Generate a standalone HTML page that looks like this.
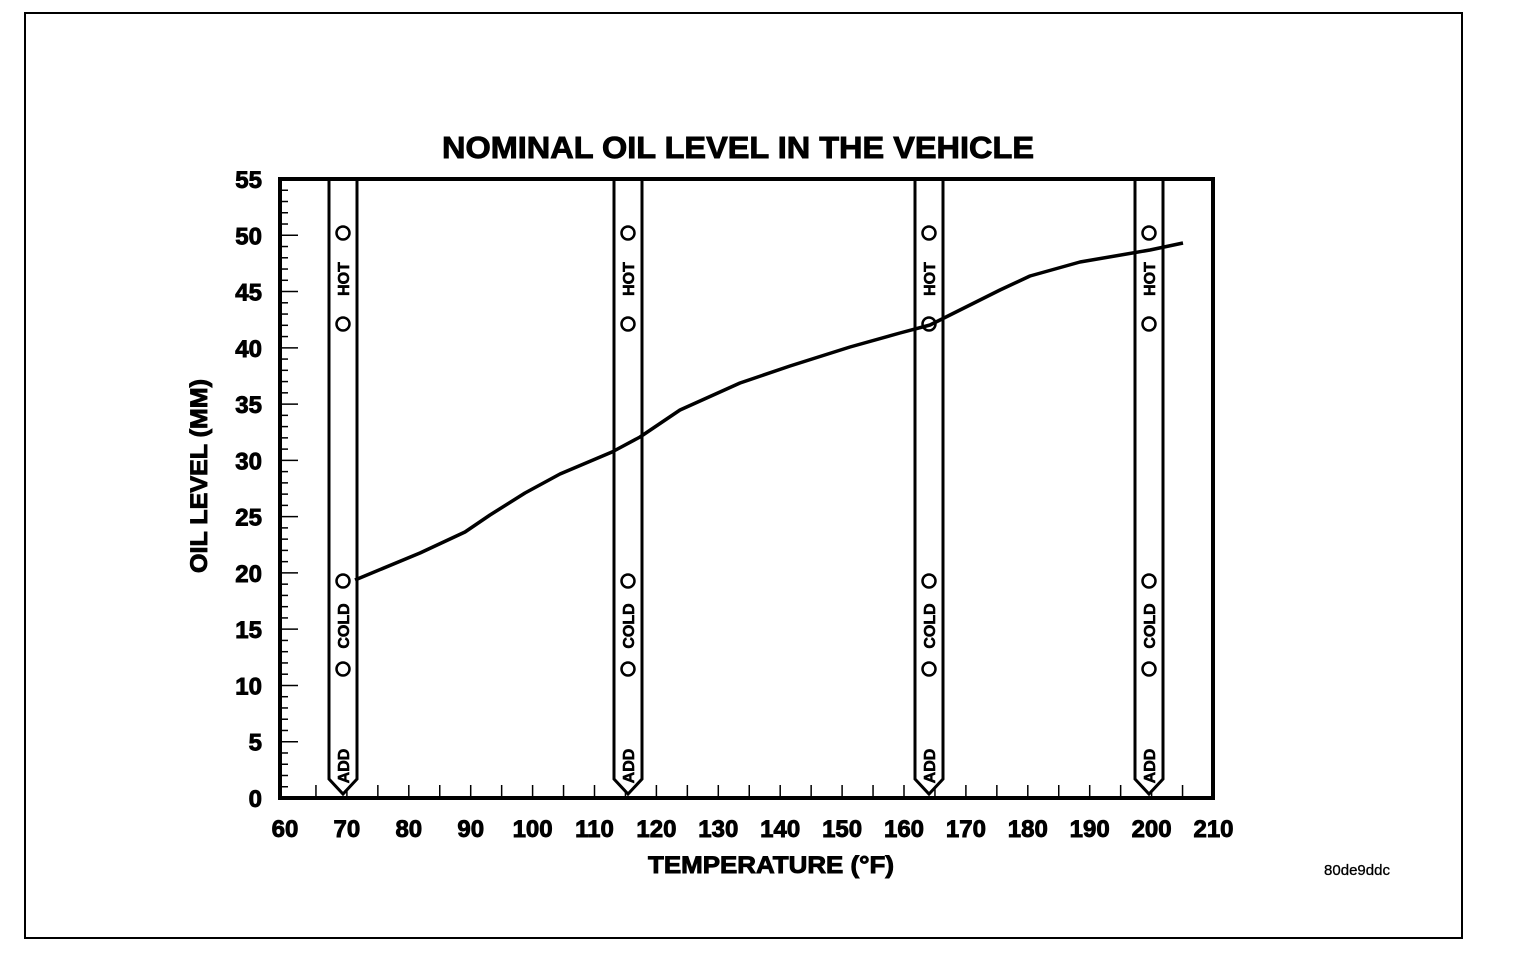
<!DOCTYPE html>
<html><head><meta charset="utf-8"><style>
html,body{margin:0;padding:0;background:#fff;}
svg{display:block;}
text{font-family:"Liberation Sans",Arial,sans-serif;font-weight:bold;fill:#000;stroke:#000;stroke-width:0.9;}
</style></head><body>
<svg id="s" width="1536" height="958" viewBox="0 0 1536 958" xmlns="http://www.w3.org/2000/svg">
<rect x="25" y="13" width="1437" height="925" fill="none" stroke="#000" stroke-width="2"/>
<text x="738" y="158" font-size="31" text-anchor="middle" textLength="592" lengthAdjust="spacingAndGlyphs">NOMINAL OIL LEVEL IN THE VEHICLE</text>
<text x="771" y="873" font-size="24" text-anchor="middle" textLength="246" lengthAdjust="spacingAndGlyphs">TEMPERATURE (°F)</text>
<text transform="translate(207,476) rotate(-90)" font-size="24" text-anchor="middle" textLength="194" lengthAdjust="spacingAndGlyphs">OIL LEVEL (MM)</text>
<text x="1357" y="875" font-size="15" text-anchor="middle" style="font-weight:normal;stroke-width:0.3">80de9ddc</text>
<g id="g"></g>
<polyline fill="none" stroke="#000" stroke-width="3.5" stroke-linejoin="round" points="355,580 420,553 465,532 490,515 525,493 560,474 612,452 640,437 680,410 740,383 790,366 850,347 900,333 930,325 960,310 1000,290 1030,276 1080,262 1150,250 1183,243"/>
<rect x="280" y="179" width="933" height="619" fill="none" stroke="#000" stroke-width="4"/>
</svg>
<script>
var g=document.getElementById('g'),h='';
var X0=280,Y0=798,Yt=179,sy=(Y0-Yt)/55;
for(var v=1;v<55;v++){var y=Y0-v*sy;var len=(v%5==0)?18:8;h+='<line x1="280" y1="'+y+'" x2="'+(280+len)+'" y2="'+y+'" stroke="#000" stroke-width="1.5"/>';}
for(var v=0;v<=55;v+=5){var y=Y0-v*sy;h+='<text x="262" y="'+(y+9)+'" font-size="24" text-anchor="end">'+v+'</text>';}
var sx=61.9;function xp(t){return 285+(t-60)/10*sx;}
for(var t=65;t<=205;t+=5){var x=xp(t);h+='<line x1="'+x+'" y1="798" x2="'+x+'" y2="785" stroke="#000" stroke-width="1.5"/>';}
for(var t=60;t<=210;t+=10){h+='<text x="'+xp(t)+'" y="837" font-size="24" text-anchor="middle">'+t+'</text>';}
[343,628,929,1149].forEach(function(c){
 var l=c-14,r=c+14;
 h+='<path d="M'+l+' 179 L'+l+' 779 L'+c+' 794 L'+r+' 779 L'+r+' 179" fill="#fff" stroke="#000" stroke-width="3"/>';
 [233,324,581,669].forEach(function(y){h+='<circle cx="'+c+'" cy="'+y+'" r="6.5" fill="none" stroke="#000" stroke-width="2.5"/>';});
 h+='<text transform="translate('+(c+6)+',279) rotate(-90)" font-size="16" text-anchor="middle" style="stroke-width:0.6">HOT</text>';
 h+='<text transform="translate('+(c+6)+',626) rotate(-90)" font-size="16" text-anchor="middle" style="stroke-width:0.6">COLD</text>';
 h+='<text transform="translate('+(c+6)+',766) rotate(-90)" font-size="16" text-anchor="middle" style="stroke-width:0.6">ADD</text>';
});
g.innerHTML=h;
</script>
</body></html>
